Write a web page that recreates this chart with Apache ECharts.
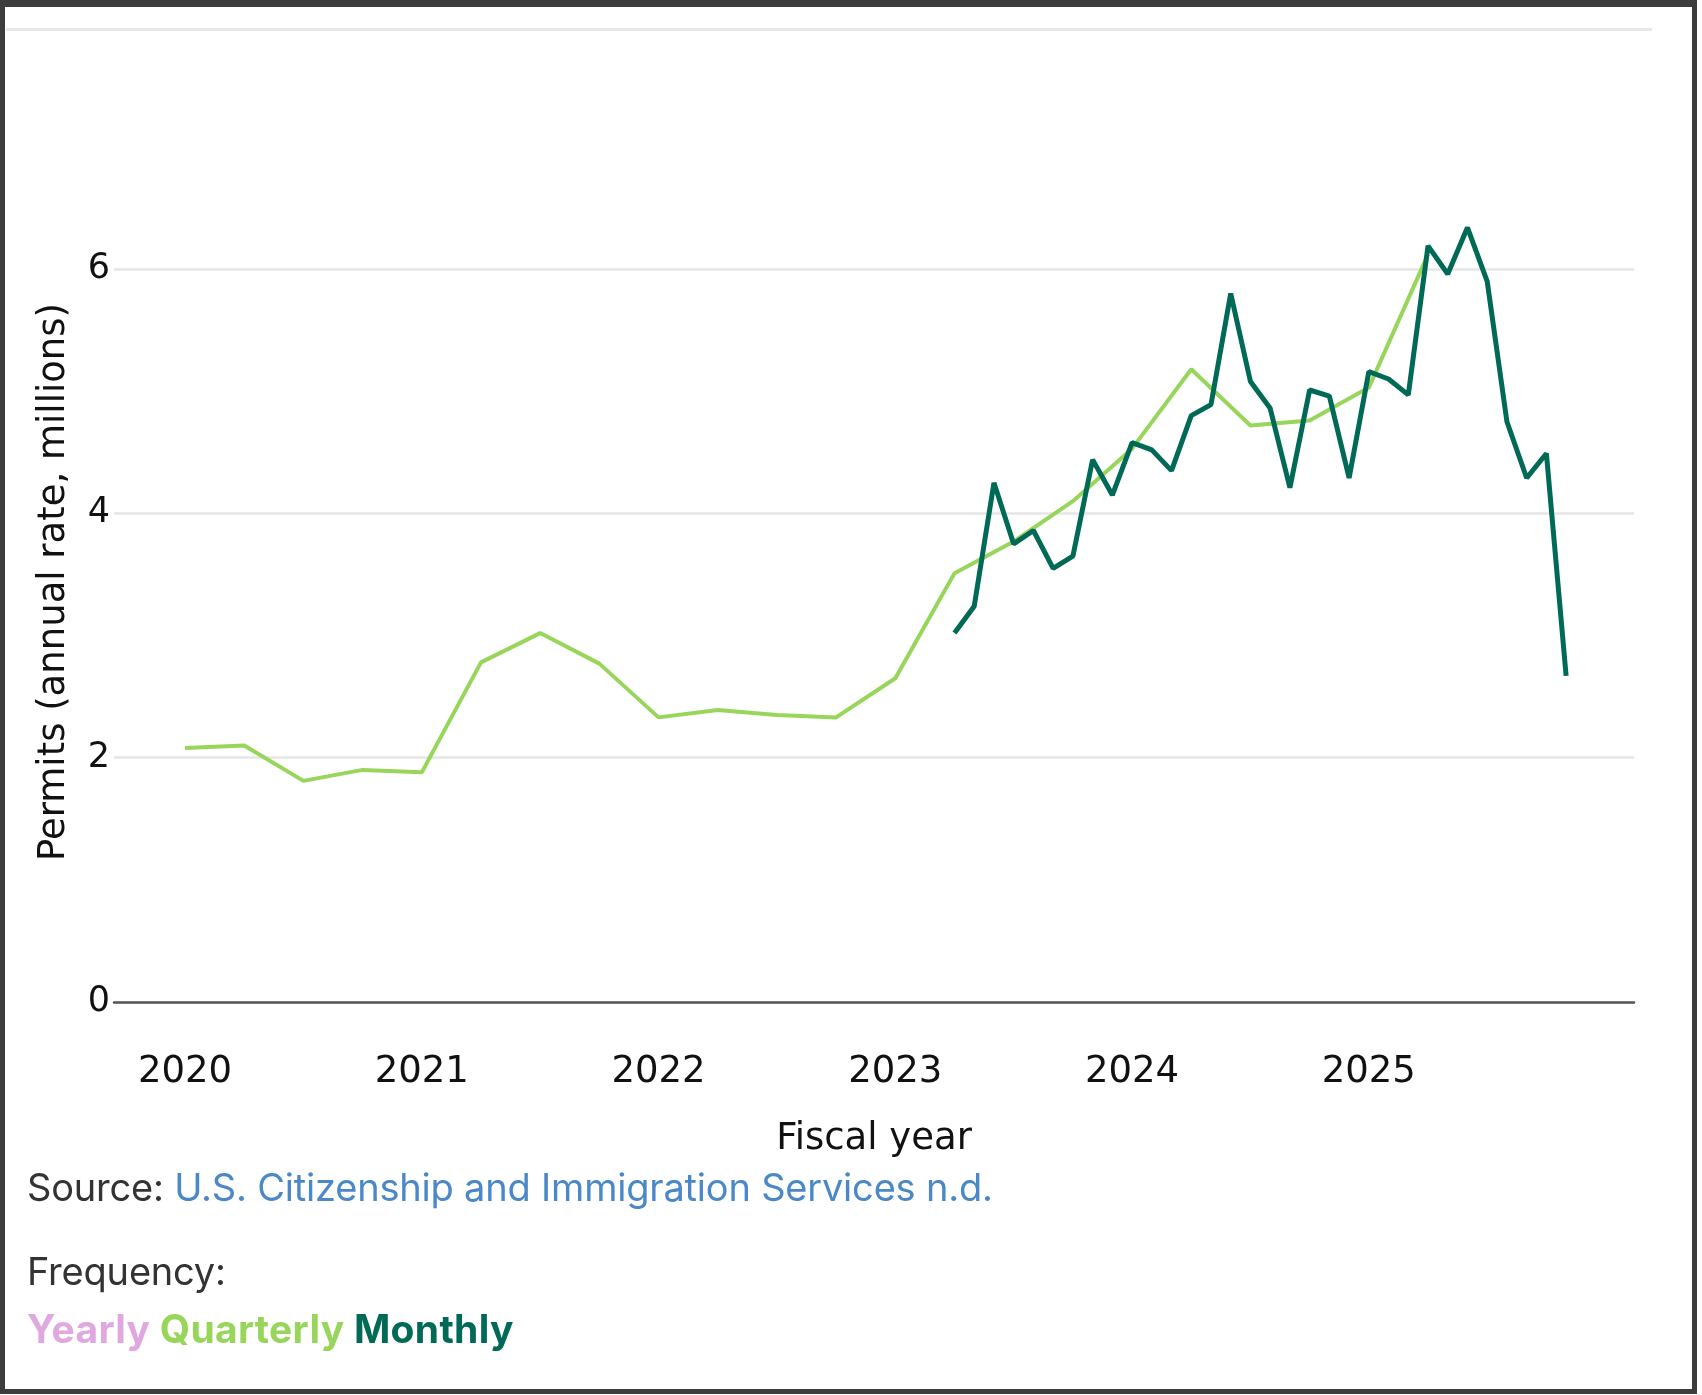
<!DOCTYPE html>
<html>
<head>
<meta charset="utf-8">
<script src="https://cdn.jsdelivr.net/npm/echarts@6/dist/echarts.min.js"></script>
<style>
  html, body { margin: 0; padding: 0; background: #fff; }
  #wrap { position: relative; width: 1702px; height: 1395px; overflow: hidden; background: #fff; }
  #chart { position: absolute; left: 0; top: 0; width: 1702px; height: 1395px; }
  #frame { position: absolute; left: 0; top: 0; width: 1697px; height: 1394px; box-sizing: border-box;
           border: 5px solid #3d3d3d; border-top-width: 7px; pointer-events: none; }
  #topline { position: absolute; left: 6px; top: 28px; width: 1646px; height: 3px; background: #e8e8e8; }
  .foot { position: absolute; left: 27px; font-family: Inter, "Noto Sans", sans-serif; font-size: 38px; color: #333; white-space: nowrap; line-height: 1; letter-spacing: -0.2px; }
  #src { top: 1168px; }
  #src span { color: #4a88c8; }
  #freq { top: 1252px; }
  #legend { top: 1309px; font-weight: 700; font-size: 39px; letter-spacing: 0.3px; }
</style>
</head>
<body>
<div id="wrap">
  <div id="topline"></div>
  <div id="chart"></div>
  <div class="foot" id="src">Source: <span>U.S. Citizenship and Immigration Services n.d.</span></div>
  <div class="foot" id="freq">Frequency:</div>
  <div class="foot" id="legend"><span style="color:#e0a8e0">Yearly</span> <span style="color:#97d65a">Quarterly</span> <span style="color:#006a57">Monthly</span></div>
  <div id="frame"></div>
</div>
<script>
// Fiscal year tick labels
const yearTicks = [2020, 2021, 2022, 2023, 2024, 2025];
const yTicks = [0, 2, 4, 6];

// Quarterly series: starts at fiscal 2020.00, one value per quarter
const quarterlyStart = 2020;
const quarterlyValues = [2.08, 2.10, 1.81, 1.90, 1.88, 2.78, 3.02, 2.77, 2.33, 2.39, 2.35, 2.33,
                         2.65, 3.51, 3.77, 4.10, 4.53, 5.18, 4.72, 4.76, 5.03, 6.12];

// Monthly series: starts at fiscal 2023.25, one value per month
const monthlyStart = 2023.25;
const monthlyValues = [3.02, 3.24, 4.25, 3.75, 3.86, 3.55, 3.65, 4.44, 4.15, 4.58, 4.52, 4.35,
                       4.80, 4.89, 5.80, 5.08, 4.86, 4.21, 5.01, 4.96, 4.29, 5.16, 5.10, 4.97,
                       6.19, 5.96, 6.34, 5.90, 4.75, 4.29, 4.49, 2.67];

const quarterlyData = quarterlyValues.map((v, i) => [quarterlyStart + i / 4, v]);
const monthlyData = monthlyValues.map((v, i) => [monthlyStart + i / 12, v]);

const chart = echarts.init(document.getElementById('chart'));
const axisFont = '"DejaVu Sans", Verdana, sans-serif';
chart.setOption({
  animation: false,
  grid: { left: 114, right: 68, top: 208, bottom: 393, containLabel: false },
  xAxis: {
    type: 'value',
    min: 2019.7,
    max: 2026.12,
    name: 'Fiscal year',
    nameLocation: 'middle',
    nameGap: 119,
    nameTextStyle: { fontFamily: axisFont, fontSize: 37, color: '#111' },
    axisLine: { show: true, onZero: false, lineStyle: { color: '#555', width: 2.5 } },
    axisTick: { show: false },
    splitLine: { show: false },
    axisLabel: {
      customValues: yearTicks,
      margin: 52,
      fontFamily: axisFont,
      fontSize: 37,
      color: '#111',
      formatter: v => String(Math.round(v))
    }
  },
  yAxis: {
    type: 'value',
    min: 0,
    max: 6.5,
    interval: 2,
    axisLine: { show: false },
    axisTick: { show: false },
    axisLabel: {
      customValues: yTicks,
      margin: 4,
      fontFamily: axisFont,
      fontSize: 35,
      color: '#111'
    },
    splitLine: { show: true, showMaxLine: false, lineStyle: { color: '#e6e6e6', width: 2.5 } }
  },
  graphic: [{
    type: 'text',
    x: 54, y: 582,
    rotation: Math.PI / 2,
    style: {
      text: 'Permits (annual rate, millions)',
      fontFamily: axisFont, fontSize: 37, fill: '#111',
      align: 'center', verticalAlign: 'middle'
    }
  }],
  series: [
    {
      name: 'Quarterly', type: 'line', data: quarterlyData,
      showSymbol: false, lineStyle: { color: '#97d65a', width: 4 }, z: 2
    },
    {
      name: 'Monthly', type: 'line', data: monthlyData,
      showSymbol: false, lineStyle: { color: '#006a57', width: 5 }, z: 3
    }
  ]
});
</script>
</body>
</html>
